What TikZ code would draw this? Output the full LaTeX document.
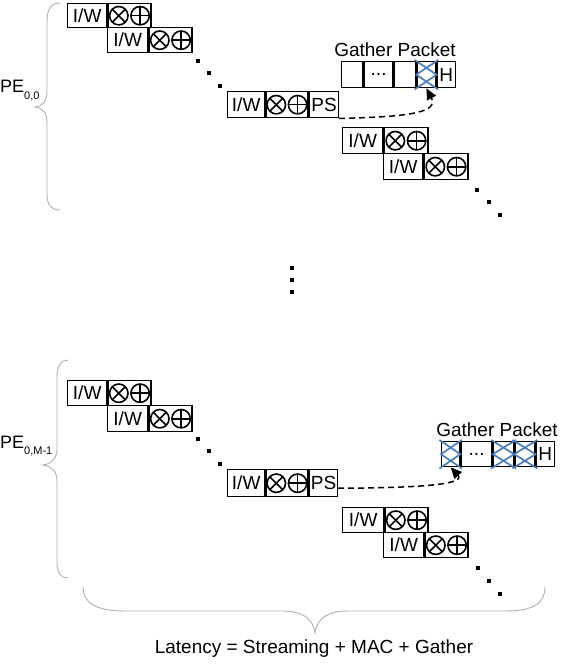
\documentclass[tikz,border=0pt]{standalone}
\usepackage{fontspec}
\setmainfont{Liberation Sans}
\usetikzlibrary{calc,arrows.meta}
\definecolor{crossblue}{RGB}{74,126,187}
\definecolor{bracegray}{RGB}{175,175,175}
\tikzset{
 cell/.style={draw, line width=1.4pt, inner sep=0pt, anchor=north west, font=\fontsize{19}{19}\selectfont},
 sym/.style={line width=1.6pt},
 xcross/.style={line width=1.7pt, crossblue},
 brace/.style={bracegray, line width=0.9pt},
 flow/.style={dash pattern=on 6pt off 4pt, line width=1.5pt, -{Triangle[length=11pt,width=10pt]}},
 lbl/.style={font=\fontsize{19}{19}\selectfont, anchor=base, inner sep=0pt},
 pelbl/.style={font=\fontsize{18}{18}\selectfont, anchor=base west, inner sep=0pt},
}
\newcommand{\opsyms}[1]{%
 \draw[sym] ($(#1.center)+(-10.8,0)$) circle[radius=9.2pt];
 \draw[sym] ($(#1.center)+(-17.3,-6.5)$) -- ($(#1.center)+(-4.3,6.5)$);
 \draw[sym] ($(#1.center)+(-17.3,6.5)$) -- ($(#1.center)+(-4.3,-6.5)$);
 \draw[sym] ($(#1.center)+(10.5,0)$) circle[radius=9.2pt];
 \draw[sym] ($(#1.center)+(1.3,0)$) -- ($(#1.center)+(19.7,0)$);
 \draw[sym] ($(#1.center)+(10.5,-9.2)$) -- ($(#1.center)+(10.5,9.2)$);}
\newcommand{\perow}[6]{%
 \node[cell, minimum width=#4pt, minimum height=#6pt] (#1i) at (#2,#3) {I/W};
 \node[cell, minimum width=#5pt, minimum height=#6pt] (#1o) at (#1i.north east) {};
 \opsyms{#1o}}
\newcommand{\xcell}[1]{%
 \draw[xcross] ($(#1.east)!1.08!(#1.north west)$) -- (#1.east) -- ($(#1.east)!1.08!(#1.south west)$);
 \draw[xcross] ($(#1.west)!1.08!(#1.north east)$) -- (#1.west) -- ($(#1.west)!1.08!(#1.south east)$);}
\newcommand{\sqdot}[2]{\fill (#1-1.7,#2-1.7) rectangle (#1+1.7,#2+1.7);}
\begin{document}
\begin{tikzpicture}[x=1pt,y=-1pt]
\useasboundingbox (0,0) rectangle (581,666);
% ---------- top PE ----------
\perow{a1}{67}{3}{39}{43}{24}
\perow{a2}{107}{27}{40}{43}{25}
\sqdot{198}{61}\sqdot{209}{73}\sqdot{220}{86}
\perow{a3}{227}{91}{37}{42}{26}
\node[cell, minimum width=29pt, minimum height=26pt] (a3s) at (a3o.north east) {PS};
\perow{a4}{342}{127}{40}{44}{26}
\perow{a5}{383}{153}{39}{44}{26}
\sqdot{477}{190}\sqdot{489}{202}\sqdot{500}{215}
% gather packet top
\node[cell, minimum width=21pt, minimum height=26pt] (ga1) at (341,61) {};
\node[cell, minimum width=29pt, minimum height=26pt] (ga2) at (ga1.north east) {...};
\node[cell, minimum width=21pt, minimum height=26pt] (ga3) at (ga2.north east) {};
\node[cell, minimum width=19pt, minimum height=26pt] (ga4) at (ga3.north east) {};
\node[cell, minimum width=18pt, minimum height=26pt] (ga5) at (ga4.north east) {H};
\xcell{ga4}
\node[lbl] (gal) at (395,57) {Gather Packet};
\draw[flow] (a3s.south east) .. controls (400,117) and (440,114) .. (ga4.south);
% brace top
\draw[brace] (60,3) .. controls (51,3) and (47,9) .. (47,22) -- (47,91)
  .. controls (47,101) and (43,106) .. (35,107)
  .. controls (43,108) and (47,113) .. (47,123) -- (47,194)
  .. controls (47,205) and (51,210) .. (60,210);
\node[pelbl] (pea) at (0,93) {PE\raisebox{-6pt}{\fontsize{11}{11}\selectfont 0,0}};
% vertical dots
\sqdot{292}{268}\sqdot{292}{280}\sqdot{292}{292}
% ---------- bottom PE ----------
\perow{b1}{67}{380}{39}{43}{25}
\perow{b2}{107}{405}{40}{43}{26}
\sqdot{198}{439}\sqdot{209}{451}\sqdot{220}{464}
\perow{b3}{227}{469}{37}{42}{27}
\node[cell, minimum width=28pt, minimum height=27pt] (b3s) at (b3o.north east) {PS};
\perow{b4}{342}{507}{41}{43}{25}
\perow{b5}{383}{532}{40}{43}{25}
\sqdot{478}{568}\sqdot{489}{581}\sqdot{500}{594}
% gather packet bottom
\node[cell, minimum width=18pt, minimum height=25pt] (gb1) at (441,441) {};
\node[cell, minimum width=31pt, minimum height=25pt] (gb2) at (gb1.north east) {...};
\node[cell, minimum width=20pt, minimum height=25pt] (gb3) at (gb2.north east) {};
\node[cell, minimum width=20pt, minimum height=25pt] (gb4) at (gb3.north east) {};
\node[cell, minimum width=18pt, minimum height=25pt] (gb5) at (gb4.north east) {H};
\xcell{gb1}\xcell{gb3}\xcell{gb4}
\node[lbl] (gbl) at (497,436) {Gather Packet};
\draw[flow] ($(b3s.east)+(0,5)$) .. controls (400,488) and (468,486) .. (gb1.south);
% brace bottom left
\draw[brace] (68,360) .. controls (61,360) and (57,366) .. (57,378) -- (57,449)
  .. controls (57,459) and (51,464) .. (43,465)
  .. controls (51,466) and (57,471) .. (57,481) -- (57,562)
  .. controls (57,573) and (61,578) .. (68,578);
\node[pelbl] (peb) at (0,448) {PE\raisebox{-6pt}{\fontsize{11}{11}\selectfont 0,M-1}};
% horizontal brace
\draw[brace] (83,587) .. controls (83,603) and (96,611) .. (125,611) -- (282,611)
  .. controls (302,611) and (313,618) .. (315,633)
  .. controls (317,618) and (328,611) .. (348,611) -- (505,611)
  .. controls (534,611) and (545,603) .. (545,587);
\node[lbl] (lat) at (314,653) {Latency = Streaming + MAC + Gather};
\end{tikzpicture}
\end{document}
